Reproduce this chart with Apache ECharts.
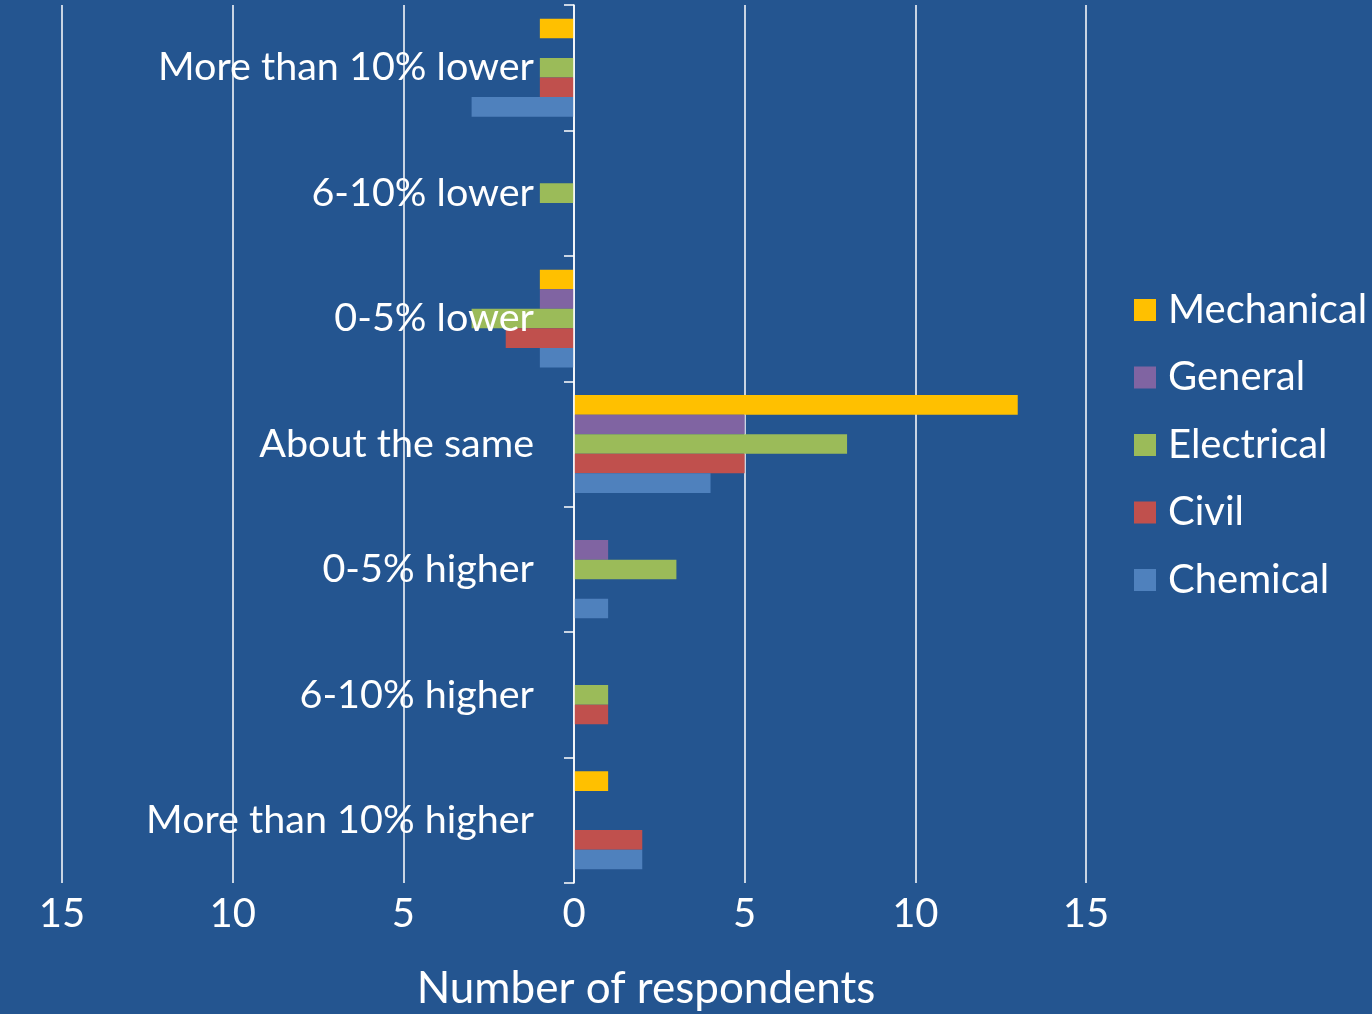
<!DOCTYPE html>
<html>
<head>
<meta charset="utf-8">
<script src="https://cdn.jsdelivr.net/npm/echarts@6/dist/echarts.min.js"></script>
<style>
html,body{margin:0;padding:0;background:#245590;}
#chart{width:1372px;height:1014px;}
</style>
</head>
<body>
<div id="chart"></div>
<script>
const categories = ["More than 10% lower","6-10% lower","0-5% lower","About the same","0-5% higher","6-10% higher","More than 10% higher"];
const seriesNames = ["Mechanical","General","Electrical","Civil","Chemical"];
const mechanical = [-1, 0, -1, 13, 0, 0, 1];
const general    = [0, 0, -1, 5, 1, 0, 0];
const electrical = [-1, -1, -3, 8, 3, 1, 0];
const civil      = [-1, 0, -2, 5, 0, 1, 2];
const chemical   = [-3, 0, -1, 4, 1, 0, 2];
const xTicks = [-15, -10, -5, 0, 5, 10, 15];
const colors = ["#FFC000","#8064A2","#9BBB59","#C0504D","#4F81BD"];

const values = [mechanical, general, electrical, civil, chemical];
const FONT = "Lato";
const chart = echarts.init(document.getElementById('chart'));
chart.setOption({
  backgroundColor: '#245590',
  animation: false,
  textStyle: {fontFamily: FONT},
  grid: {left: 62, right: 286, top: 5, bottom: 131, containLabel: false, outerBoundsMode: 'none'},
  legend: {
    orient: 'vertical', left: 1134, top: 290, padding: 0,
    itemWidth: 22, itemHeight: 22, itemGap: 27.5, icon: 'rect',
    textStyle: {color: '#fff', fontSize: 40, fontFamily: FONT, lineHeight: 40, padding: [0,0,0,7]},
    data: seriesNames
  },
  xAxis: {
    type: 'value', min: xTicks[0], max: xTicks[xTicks.length-1], interval: 5,
    axisLine: {show: false}, axisTick: {show: false},
    splitLine: {show: true, lineStyle: {color: '#fff', width: 1.5}},
    axisLabel: {color: '#fff', fontSize: 40, fontFamily: FONT, margin: 11,
      formatter: v => String(Math.abs(v))},
    name: 'Number of respondents', nameLocation: 'middle', nameGap: 84,
    nameTextStyle: {color: '#fff', fontSize: 44, fontFamily: FONT, padding: [0,0,0,144]}
  },
  yAxis: {
    type: 'category', data: categories, inverse: true, z: 5,
    axisLine: {show: true, onZero: true, lineStyle: {color: '#fff', width: 1.5}},
    axisTick: {show: true, length: 10, lineStyle: {color: '#fff', width: 1.5}},
    axisLabel: {color: '#fff', fontSize: 39.5, fontFamily: FONT, margin: -472}
  },
  series: seriesNames.map((n, i) => ({
    name: n, type: 'bar', data: values[i],
    itemStyle: {color: colors[i]},
    barGap: '0%', barCategoryGap: '22%'
  }))
});
</script>
</body>
</html>
